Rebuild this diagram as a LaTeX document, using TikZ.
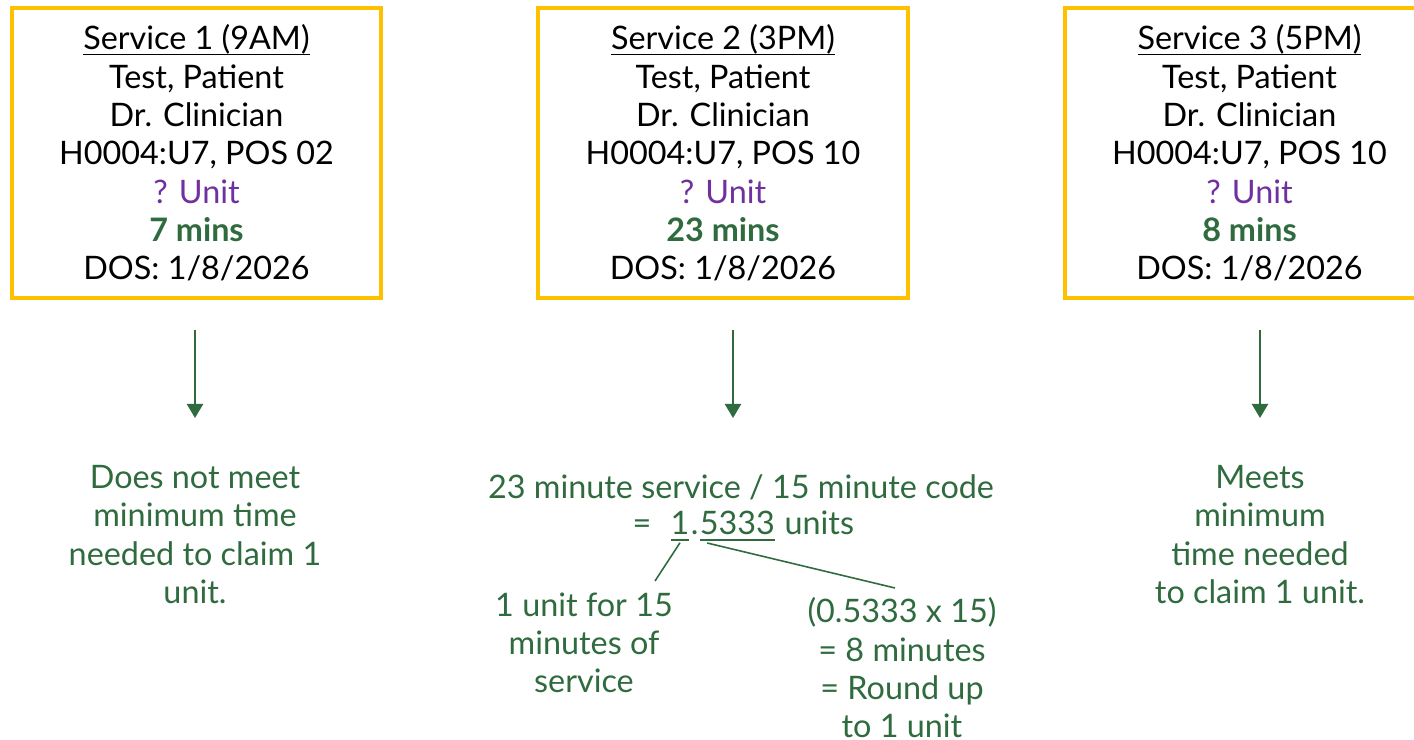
\documentclass[tikz,border=0pt]{standalone}
\usepackage{fontspec}
\setmainfont{Lato}
\usepackage{xcolor}
\usetikzlibrary{arrows.meta,positioning,calc}
\definecolor{oro}{RGB}{255,192,0}
\definecolor{verde}{RGB}{47,107,62}
\definecolor{morado}{RGB}{112,48,160}
\newcommand{\titulo}[1]{\underline{\smash{#1}}\vphantom{#1}}

\begin{document}
\begin{tikzpicture}[
    x=0.01cm,y=-0.01cm,
    txt/.style={font=\fontsize{9.2}{10.9}\selectfont,align=center,inner sep=0pt},
    service/.style={txt,draw=oro,line width=1.1pt,minimum width=3.69cm,minimum height=2.90cm},
    note/.style={txt,text=verde},
    line/.style={-{Triangle[length=4pt,width=4.6pt]},verde,line width=0.6pt},
    link/.style={verde,line width=0.45pt}
]
    \useasboundingbox (0,0) rectangle (1414,740);
    \clip (0,0) rectangle (1414,740);

    \node[service] (s1) at (196.5,153) {\titulo{Service 1 (9AM)}\\Test, Patient\\Dr. Clinician\\H0004:U7, POS 02\\\textcolor{morado}{? Unit}\\\textcolor{verde}{\textbf{7 mins}}\\DOS: 1/8/2026};
    \node[service] (s2) at (723,153) {\titulo{Service 2 (3PM)}\\Test, Patient\\Dr. Clinician\\H0004:U7, POS 10\\\textcolor{morado}{? Unit}\\\textcolor{verde}{\textbf{23 mins}}\\DOS: 1/8/2026};
    \node[service] (s3) at (1249.5,153) {\titulo{Service 3 (5PM)}\\Test, Patient\\Dr. Clinician\\H0004:U7, POS 10\\\textcolor{morado}{? Unit}\\\textcolor{verde}{\textbf{8 mins}}\\DOS: 1/8/2026};

    \node[note] (n1) at (195,534.5) {Does not meet\\minimum time\\needed to claim 1\\unit.};
    \node[note] (calc) at (741,487) {23 minute service / 15 minute code};
    \node[note,anchor=base] (one) at (680,535) {\underline{1}};
    \node[note,anchor=base east] (eqs) at (one.base west) {=\hspace{0.55em}};
    \node[note,anchor=base west] (dot) at (one.base east) {.};
    \node[note,anchor=base west] (frac) at (dot.base east) {\underline{5333}};
    \node[note,anchor=base west] (units) at (frac.base east) {\ units};
    \node[note] (whole) at (584,643) {1 unit for 15\\minutes of\\service};
    \node[note] (rest) at (902,668) {(0.5333 x 15)\\= 8 minutes\\= Round up\\to 1 unit};
    \node[note] (n3) at (1260,534.5) {Meets\\minimum\\time needed\\to claim 1 unit.};

    \coordinate (a1) at (195,330);
    \coordinate (a2) at (733,330);
    \coordinate (a3) at (1260,330);
    \coordinate (wend) at (655,581);
    \coordinate (rend) at (895,588);

    \draw[line] (a1) -- ++(0,88);
    \draw[line] (a2) -- ++(0,88);
    \draw[line] (a3) -- ++(0,88);
    \draw[link] (one.south) -- (wend);
    \draw[link] ([xshift=0.08cm]frac.south west) -- (rend);
\end{tikzpicture}
\end{document}
